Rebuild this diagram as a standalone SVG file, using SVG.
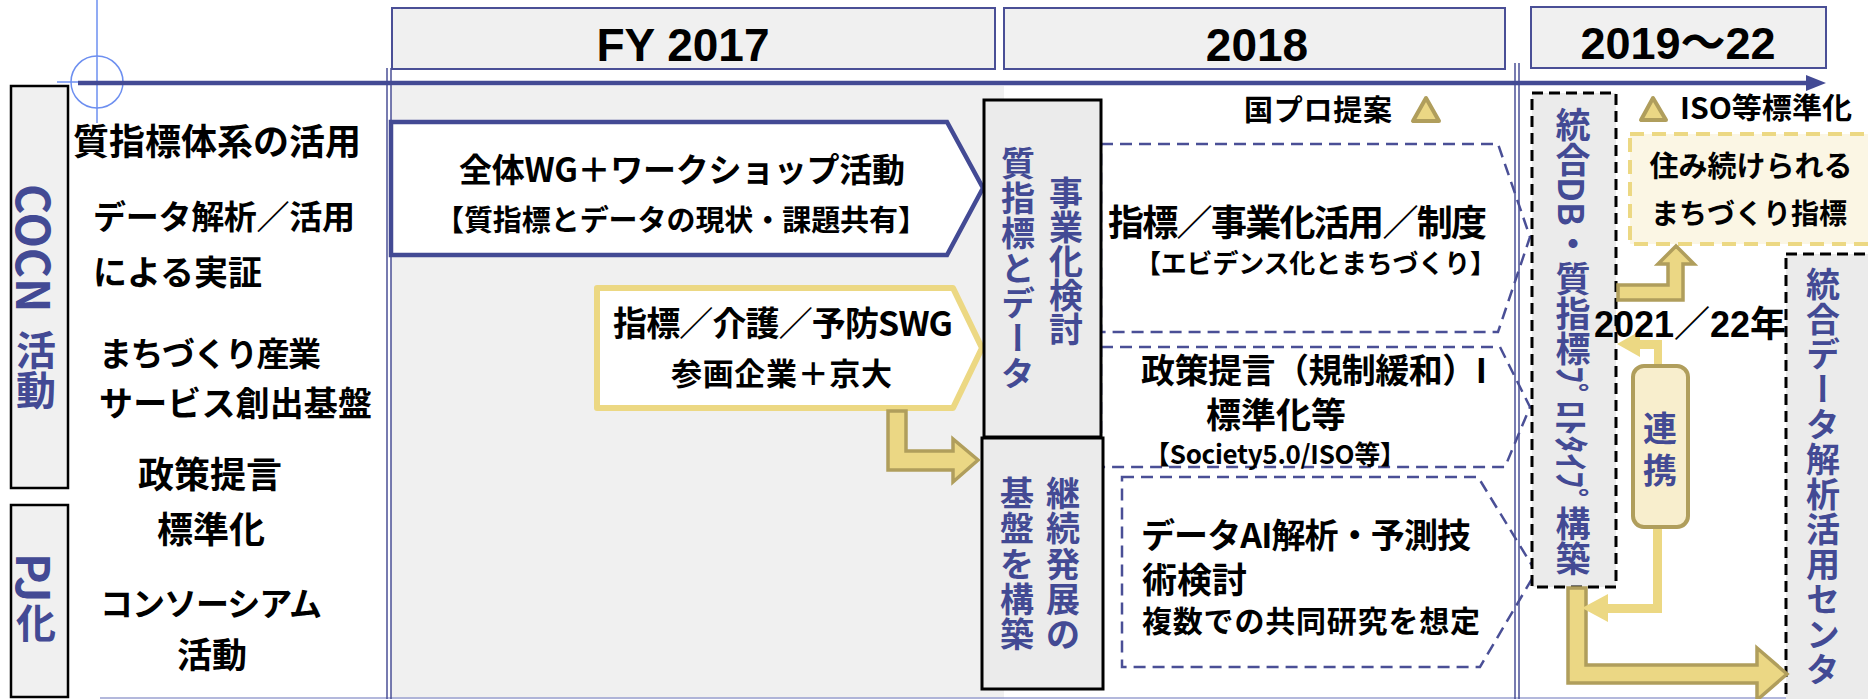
<svg xmlns="http://www.w3.org/2000/svg" width="1868" height="699" viewBox="0 0 1868 699">
<defs><style>
.jp{font-family:"Noto Sans CJK JP","Noto Sans CJK SC",sans-serif;font-weight:700;fill:#000}
.lat{font-family:"Liberation Sans","Noto Sans CJK JP",sans-serif;font-weight:700;fill:#000;text-anchor:middle}
.v{font-family:"Noto Sans CJK JP","Noto Sans CJK SC",sans-serif;font-weight:700;fill:#434a94}
.vm{writing-mode:vertical-rl}
.vf{font-feature-settings:"vert" 1}
.hdr{fill:#f0f0f0;stroke:#4a4f96;stroke-width:2}
.sbox{fill:#f0f0f0;stroke:#000;stroke-width:2.5}
.mbox{fill:#ebebeb;stroke:#000;stroke-width:3}
.dbox{fill:#ebebeb;stroke:#000;stroke-width:3;stroke-dasharray:11 6}
.bdash{fill:none;stroke:#4a4f96;stroke-width:2.5;stroke-dasharray:12 7}
.karrow{fill:#ebd784;stroke:#b09e5c;stroke-width:3.5}
.larrow{fill:#ecd883}
.tri{fill:#ebd784;stroke:#b09e5c;stroke-width:4;stroke-linejoin:round}
.guide{fill:none;stroke:#6d8ff0;stroke-width:1.5}
.dbl{stroke:#4a4f96;stroke-width:1.5}
</style></defs>
<rect width="1868" height="699" fill="#fff"/>
<g id="background">
<rect x="391" y="86" width="613" height="613" fill="#f0f0f0"/>
<line x1="100" y1="698" x2="1790" y2="698" stroke="#9aa0d0" stroke-width="1.5"/>
<line class="dbl" x1="387" y1="68" x2="387" y2="699"/>
<line class="dbl" x1="391" y1="68" x2="391" y2="699"/>
<line class="dbl" x1="1515" y1="63" x2="1515" y2="699"/>
<line class="dbl" x1="1519" y1="63" x2="1519" y2="699"/>
</g>
<g id="guide">
<line class="guide" x1="97" y1="0" x2="97" y2="123"/>
<line class="guide" x1="57" y1="82" x2="80" y2="82"/>
<circle class="guide" cx="97" cy="82" r="26"/>
</g>
<g id="headers">
<g id="h2017"><rect class="hdr" x="392" y="8" width="603" height="61"/><text class="lat" x="683" y="61" font-size="46">FY 2017</text></g>
<g id="h2018"><rect class="hdr" x="1004" y="8" width="501" height="61"/><text class="lat" x="1257" y="61" font-size="46">2018</text></g>
<g id="h2019"><rect class="hdr" x="1531" y="7" width="295" height="61"/><text class="lat" x="1678" y="59" font-size="45">2019～22</text></g>
</g>
<g id="axis">
<line x1="78" y1="83" x2="1812" y2="83" stroke="#434a94" stroke-width="4.5"/>
<polygon points="1806,75 1826,83 1806,91" fill="#434a94"/>
</g>
<g id="side-cocn"><rect class="sbox" x="11" y="86" width="57" height="402"/>
<text class="v vm" x="36" y="184" font-size="40"><tspan font-size="46">COCN</tspan> <tspan dy="8">活動</tspan></text></g>
<g id="side-pj"><rect class="sbox" x="11" y="505" width="57" height="192"/>
<text class="v vm" x="36" y="553" font-size="40"><tspan font-size="46">PJ</tspan>化</text></g>
<g id="row-labels">
<text class="jp" x="73" y="155" font-size="36">質指標体系の活用</text>
<text class="jp" x="93" y="229" font-size="33" textLength="262">データ解析／活用</text>
<text class="jp" x="93" y="285" font-size="34">による実証</text>
<text class="jp" x="99" y="366" font-size="33" textLength="222">まちづくり産業</text>
<text class="jp" x="99" y="416" font-size="34" textLength="273">サービス創出基盤</text>
<text class="jp" x="138" y="488" font-size="36">政策提言</text>
<text class="jp" x="157" y="543" font-size="36">標準化</text>
<text class="jp" x="100" y="616" font-size="33" textLength="222">コンソーシアム</text>
<text class="jp" x="177" y="668" font-size="35">活動</text>
</g>
<g id="n-zentai">
<polygon points="391,122 947,122 983,188 947,255 391,255" fill="#fff" stroke="#434a94" stroke-width="4.5"/>
<text class="jp" x="459" y="182" font-size="33" textLength="446">全体WG＋ワークショップ活動</text>
<text class="jp" x="435" y="231" font-size="29" textLength="492">【質指標とデータの現状・課題共有】</text>
</g>
<g id="n-swg">
<polygon points="597,288 953,288 982,348 953,408 597,408" fill="#fff" stroke="#ecd883" stroke-width="6" stroke-linejoin="round"/>
<text class="jp" x="613" y="336" font-size="34" textLength="340">指標／介護／予防SWG</text>
<text class="jp" x="671" y="385" font-size="31" textLength="221">参画企業＋京大</text>
</g>
<g id="n-shihyo">
<polygon class="bdash" points="1101,144 1498,144 1530,237 1498,332 1101,332"/>
<text class="jp" x="1108" y="236" font-size="36" textLength="379">指標／事業化活用／制度</text>
<text class="jp" x="1135" y="273" font-size="26" textLength="361">【エビデンス化とまちづくり】</text>
</g>
<g id="n-seisaku">
<polygon class="bdash" points="1101,347 1500,347 1530,407 1505,467 1101,467"/>
<text class="jp" x="1141" y="383" font-size="34" textLength="346">政策提言（規制緩和）I</text>
<text class="jp" x="1206" y="428" font-size="35">標準化等</text>
<text class="jp" x="1144" y="464" font-size="26" textLength="262">【Society5.0/ISO等】</text>
</g>
<g id="n-ai">
<polygon class="bdash" points="1122,477 1478,477 1536,572 1480,667 1122,667"/>
<text class="jp" x="1141" y="548" font-size="34" textLength="330">データAI解析・予測技</text>
<text class="jp" x="1142" y="593" font-size="35">術検討</text>
<text class="jp" x="1142" y="632" font-size="30" textLength="338">複数での共同研究を想定</text>
</g>
<g id="n-jigyoka">
<rect class="mbox" x="984" y="100" width="117" height="337"/>
<text class="v" font-size="34" x="1049 1049 1049 1049 1049" y="206 240 274 308 342">事業化検討</text>
<text class="v vf" font-size="34" x="1001 1001 1001 1001 1001 1001 1001" y="176 211 246 281 316 351 386">質指標とデータ</text>
</g>
<g id="n-keizoku">
<rect class="mbox" x="982" y="438" width="121" height="251"/>
<text class="v" font-size="34" x="1046 1046 1046 1046 1046" y="506 541 577 612 647">継続発展の</text>
<text class="v" font-size="34" x="1000 1000 1000 1000 1000" y="506 541 577 612 647">基盤を構築</text>
</g>
<g id="n-kunipro">
<text class="jp" x="1244" y="121" font-size="29" textLength="148">国プロ提案</text>
<polygon class="tri" points="1426,98 1413,121 1439,121"/>
</g>
<g id="n-iso">
<polygon class="tri" points="1653,98 1641,120 1666,120"/>
<text class="jp" x="1680" y="119" font-size="29" textLength="172" lengthAdjust="spacingAndGlyphs">ISO等標準化</text>
</g>
<g id="n-sumitsuzuke">
<rect x="1630" y="134" width="240" height="110" fill="#fbf6e4" stroke="#ecd883" stroke-width="4" stroke-dasharray="14 8"/>
<text class="jp" x="1751" y="177" font-size="29" text-anchor="middle">住み続けられる</text>
<text class="jp" x="1749" y="224" font-size="28" text-anchor="middle">まちづくり指標</text>
</g>
<g id="n-tougoudb">
<rect class="dbox" x="1532" y="93" width="84" height="494"/>
<text class="v vm" x="1573" y="107" font-size="35">統合DB・質指標ﾌﾟﾛﾄﾀｲﾌﾟ構築</text>
</g>
<g id="n-center">
<rect class="dbox" x="1786" y="254" width="100" height="460"/>
<text class="v vf" font-size="34" x="1806 1806 1806 1806 1806 1806 1806 1806 1806 1806 1806 1806" y="297 332 367 402 437 472 507 542 577 612 647 682">統合データ解析活用センタ</text>
</g>
<g id="connectors">
<polygon class="karrow" points="888,411 906,411 906,451 953,451 953,439 978,460 953,482 953,470 888,470"/>
<polygon class="karrow" points="1618,285 1668,285 1668,264 1658,264 1676,246 1694,264 1683,264 1683,300 1618,300"/>
<polygon class="karrow" points="1568,588 1586,588 1586,665 1757,665 1757,648 1787,674 1757,700 1757,683 1568,683"/>
<polygon class="larrow" points="1662,366 1654,366 1654,349 1640,349 1640,357 1617,344 1640,331 1640,340 1662,340"/>
<polygon class="larrow" points="1653,527 1662,527 1662,613 1608,613 1608,622 1582,608 1608,594 1608,604 1653,604"/>
</g>
<g id="n-renkei">
<rect x="1633" y="366" width="55" height="161" rx="11" fill="#f8eecd" stroke="#b09e5c" stroke-width="4"/>
<text class="v" font-size="34" x="1643 1643" y="441 483">連携</text>
</g>
<g id="n-2021">
<text class="lat" x="1690" y="337" font-size="36">2021／22年</text>
</g>
</svg>
